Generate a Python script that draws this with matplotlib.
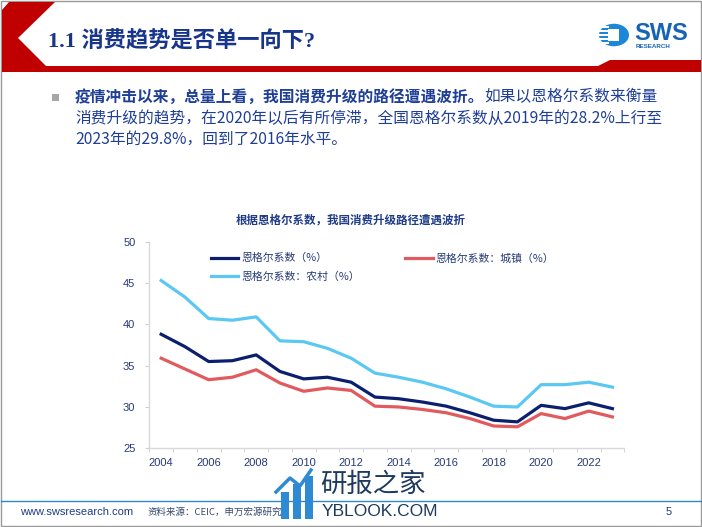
import matplotlib.pyplot as plt
from matplotlib.patches import Polygon, Rectangle, Circle
import numpy as np

plt.rcParams["font.family"] = ["Noto Sans CJK SC", "DejaVu Sans"]

# data
years = list(range(2004, 2024))
engel_total = [38.8, 37.3, 35.5, 35.6, 36.3, 34.3, 33.4, 33.6, 33.0, 31.2,
               31.0, 30.6, 30.1, 29.3, 28.4, 28.2, 30.2, 29.8, 30.5, 29.8]
engel_urban = [35.9, 34.6, 33.3, 33.6, 34.5, 32.9, 31.9, 32.3, 32.0, 30.1,
               30.0, 29.7, 29.3, 28.6, 27.7, 27.6, 29.2, 28.6, 29.5, 28.8]
engel_rural = [45.3, 43.3, 40.7, 40.5, 40.9, 38.0, 37.9, 37.1, 35.9, 34.1,
               33.6, 33.0, 32.2, 31.2, 30.1, 30.0, 32.7, 32.7, 33.0, 32.4]
series_labels = ["恩格尔系数（%）", "恩格尔系数：城镇（%）", "恩格尔系数：农村（%）"]
yticks = [25, 30, 35, 40, 45, 50]

W, H = 702, 527
NAVY = "#1F3C88"
TEXT = "#1F3F96"


def fx(x):
    return x / W


def fy(y):
    return 1 - y / H


fig = plt.figure(figsize=(W / 100, H / 100), dpi=100)

# slide frame
fig.patches.append(Rectangle((fx(1), fy(526)), fx(700), 525 / H, transform=fig.transFigure,
                             fill=False, edgecolor="#9A9A9A", linewidth=1.0))

# red header shape
header = [(2, 10), (9, 2), (55, 2), (18, 38), (46, 66), (598, 66), (610, 60),
          (701, 60), (701, 72), (2, 72)]
fig.patches.append(Polygon([(fx(x), fy(y)) for x, y in header], closed=True,
                           transform=fig.transFigure, facecolor="#C00000", edgecolor="none"))

fig.text(fx(48), fy(42), "1.1 消费趋势是否单一向下?", fontsize=16, fontweight="bold",
         color="#17358A", family=["Liberation Serif", "Noto Sans CJK SC"],
         va="center", ha="left")

# logo
fig.patches.append(Circle((fx(614), fy(35)), 15 / W, transform=fig.transFigure,
                          facecolor="#1E86D6", edgecolor="none"))
for yy in [26, 30, 34, 38, 42]:
    fig.patches.append(Rectangle((fx(599), fy(yy + 1.5)), 10 / W, 1.5 / H,
                                 transform=fig.transFigure, facecolor="white", edgecolor="none"))
fig.patches.append(Rectangle((fx(608), fy(41)), 11 / W, 12 / H, transform=fig.transFigure,
                             facecolor="white", edgecolor="none"))
fig.text(fx(634), fy(34), "SWS", fontsize=17, fontweight="bold", color="#1565B4",
         family="Liberation Sans", va="center", ha="left")
fig.text(fx(636), fy(46.5), "RESEARCH", fontsize=4.5, fontweight="bold", color="#1565B4",
         family="Liberation Sans", va="center", ha="left")

# bullet text
fig.patches.append(Rectangle((fx(52), fy(101)), 7 / W, 7 / H, transform=fig.transFigure,
                             facecolor="#A6A6A6", edgecolor="none"))
bold_part = fig.text(fx(75), fy(97), "疫情冲击以来，总量上看，我国消费升级的路径遭遇波折。",
                     fontsize=11.3, fontweight="bold", color=TEXT, va="center", ha="left")
fig.canvas.draw()
bb = bold_part.get_window_extent()
fig.text(bb.x1 / W, fy(97), "如果以恩格尔系数来衡量", fontsize=11.3, color=TEXT,
         va="center", ha="left")
fig.text(fx(75), fy(118), "消费升级的趋势，在2020年以后有所停滞，全国恩格尔系数从2019年的28.2%上行至",
         fontsize=11.3, color=TEXT, va="center", ha="left")
fig.text(fx(75), fy(139), "2023年的29.8%，回到了2016年水平。",
         fontsize=11.3, color=TEXT, va="center", ha="left")

# chart
fig.text(fx(351), fy(220), "根据恩格尔系数，我国消费升级路径遭遇波折", fontsize=8.3,
         fontweight="bold", color=NAVY, ha="center", va="center")

ax = fig.add_axes([fx(149.3), fy(448.3), (624.3 - 149.3) / W, (448.3 - 241.7) / H])
x = np.arange(len(years))
l_total, = ax.plot(x, engel_total, color="#0B1F6E", linewidth=2.3, label=series_labels[0])
l_urban, = ax.plot(x, engel_urban, color="#E15A5E", linewidth=2.3, label=series_labels[1])
l_rural, = ax.plot(x, engel_rural, color="#5AC8F2", linewidth=2.3, label=series_labels[2])

ax.set_xlim(-0.5, len(years) - 0.5)
ax.set_ylim(25, 50)
ax.set_yticks(yticks)
ax.set_xticks(x[::2])
ax.set_xticklabels([str(y) for y in years[::2]])
ax.set_xticks(np.arange(-0.5, len(years), 1), minor=True)
ax.tick_params(axis="x", which="major", length=0, pad=7)
ax.tick_params(axis="x", which="minor", length=3, color="#D0D0D0", direction="out")
ax.tick_params(axis="y", length=3, color="#D0D0D0", pad=7)
for lab in ax.get_xticklabels() + ax.get_yticklabels():
    lab.set_fontfamily("Liberation Sans")
    lab.set_fontsize(8)
    lab.set_color("#263A78")
for side in ["top", "right"]:
    ax.spines[side].set_visible(False)
for side in ["left", "bottom"]:
    ax.spines[side].set_color("#D9D9D9")
    ax.spines[side].set_linewidth(1.0)
ax.patch.set_alpha(0)

leg = ax.legend(handles=[l_total, l_rural, l_urban], ncol=2, loc="upper left",
                bbox_to_anchor=(fx(211), fy(253)), bbox_transform=fig.transFigure,
                frameon=False, fontsize=7.8, handlelength=2.5, handletextpad=0.3,
                columnspacing=4.2, labelspacing=0.75, borderpad=0, borderaxespad=0)
for t in leg.get_texts():
    t.set_color("#263A78")

# footer
fig.add_artist(plt.Line2D([fx(1), fx(701)], [fy(501), fy(501)], transform=fig.transFigure,
                          color="#2E86CF", linewidth=1.0))
fig.text(fx(20), fy(512), "www.swsresearch.com", fontsize=8, color="#1F3C88",
         family="Liberation Sans", va="center", ha="left")
fig.text(fx(148), fy(512), "资料来源：CEIC，申万宏源研究", fontsize=6.8, color="#33476E",
         va="center", ha="left")
fig.text(fx(669), fy(512), "5", fontsize=8, color="#1F3C88", family="Liberation Sans",
         va="center", ha="center")

# watermark
for bx, top in [(281, 492), (293, 484), (305, 476)]:
    fig.patches.append(Rectangle((fx(bx), fy(519)), 8 / W, (519 - top) / H,
                                 transform=fig.transFigure, facecolor="#2E8BD3", edgecolor="none"))
fig.add_artist(plt.Line2D([fx(276), fx(290), fx(300), fx(311)], [fy(492), fy(478), fy(486), fy(470)],
                          transform=fig.transFigure, color="#2E8BD3", linewidth=2.5))
fig.text(fx(320), fy(484), "研报之家", fontsize=19, color="#1E3A5F", va="center", ha="left")
fig.text(fx(322), fy(512), "YBLOOK.COM", fontsize=12.5, color="#1E3A5F",
         family="Liberation Sans", va="center", ha="left")

fig.savefig("out.png", dpi=100)
